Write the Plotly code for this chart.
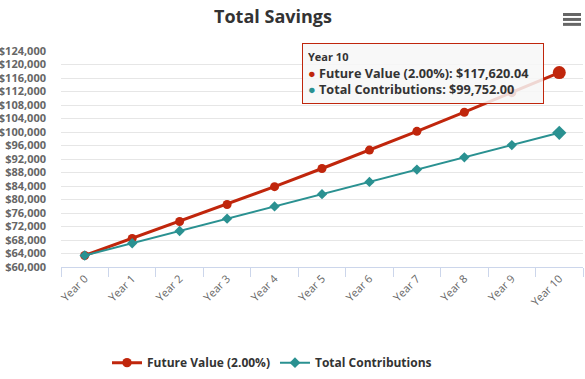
import plotly.graph_objects as go

years = ["Year 0", "Year 1", "Year 2", "Year 3", "Year 4", "Year 5",
         "Year 6", "Year 7", "Year 8", "Year 9", "Year 10"]
future_value = [63420, 68480, 73470, 78530, 83800, 89180,
                94640, 100200, 105860, 111660, 117620.04]
total_contributions = [63420, 67053, 70686, 74320, 77953, 81586,
                       85219, 88852, 92486, 96119, 99752.00]
fv_name = "Future Value (2.00%)"
tc_name = "Total Contributions"

RED = "#c0260c"
TEAL = "#2a9191"
FONT = "'Open Sans', 'Noto Sans', sans-serif"

n = len(years)
fig = go.Figure()
fig.add_trace(go.Scatter(
    x=years, y=future_value, name=fv_name, mode="lines+markers",
    line=dict(color=RED, width=3),
    marker=dict(color=RED, symbol="circle", size=[9] * (n - 1) + [13],
                opacity=1, line=dict(width=0)),
))
fig.add_trace(go.Scatter(
    x=years, y=total_contributions, name=tc_name, mode="lines+markers",
    line=dict(color=TEAL, width=2),
    marker=dict(color=TEAL, symbol="diamond", size=[8] * (n - 1) + [11],
                opacity=1, line=dict(width=0)),
))

last = n - 1
tip = (f"<span style='font-size:11px'><b>{years[last]}</b></span><br>"
       f"<span style='color:{RED}'>●</span> <b>{fv_name}: ${future_value[last]:,.2f}</b><br>"
       f"<span style='color:{TEAL}'>●</span> <b>{tc_name}: ${total_contributions[last]:,.2f}</b>")

fig.add_annotation(
    xref="paper", yref="paper", x=(302 - 61) / 522, y=(270 - 43) / 219,
    xanchor="left", yanchor="top", width=230,
    text=tip, showarrow=False, align="left",
    font=dict(family=FONT, size=12.7, color="#333333"),
    bgcolor="rgba(247,247,247,0.85)", bordercolor=RED, borderwidth=1, borderpad=5,
)

# hamburger menu icon
for yy in [14, 19, 24]:
    fig.add_shape(type="line", xref="paper", yref="paper",
                  x0=(563 - 61) / 522, x1=(581 - 61) / 522,
                  y0=(270 - yy) / 219, y1=(270 - yy) / 219,
                  line=dict(color="#666666", width=3))

fig.update_layout(
    template="none",
    width=585, height=379,
    margin=dict(l=61, r=2, t=51, b=109),
    paper_bgcolor="white", plot_bgcolor="white",
    hovermode=False,
    font=dict(family=FONT, color="#666666"),
    title=dict(text="<b>Total Savings</b>", x=273 / 585, xanchor="center",
               y=1 - 17 / 379, yanchor="middle",
               font=dict(family=FONT, size=18, color="#333333")),
    showlegend=True,
    legend=dict(orientation="h", x=(272 - 61) / 522, xanchor="center",
                y=-97 / 219, yanchor="middle", itemwidth=30,
                font=dict(family=FONT, size=12, color="#333333", weight="bold")),
    xaxis=dict(type="category", tickangle=-45, tickson="boundaries",
               ticks="outside", ticklen=9, tickcolor="#ccd6eb",
               showline=True, linecolor="#ccd6eb", linewidth=1,
               showgrid=False, zeroline=False, automargin=False,
               tickfont=dict(family=FONT, size=11, color="#666666"),
               range=[-0.5, n - 0.5]),
    yaxis=dict(range=[60000, 124000], dtick=4000, tick0=60000,
               tickprefix="$", tickformat=",d",
               showgrid=True, gridcolor="#e6e6e6", gridwidth=1,
               zeroline=False, showline=False, ticks="", automargin=False,
               ticklabelstandoff=14,
               tickfont=dict(family=FONT, size=11, color="#666666", weight="bold")),
)

fig.write_html("out.html", config={"displayModeBar": False},
               post_script="document.body.style.margin='0';document.body.style.overflow='hidden';")
